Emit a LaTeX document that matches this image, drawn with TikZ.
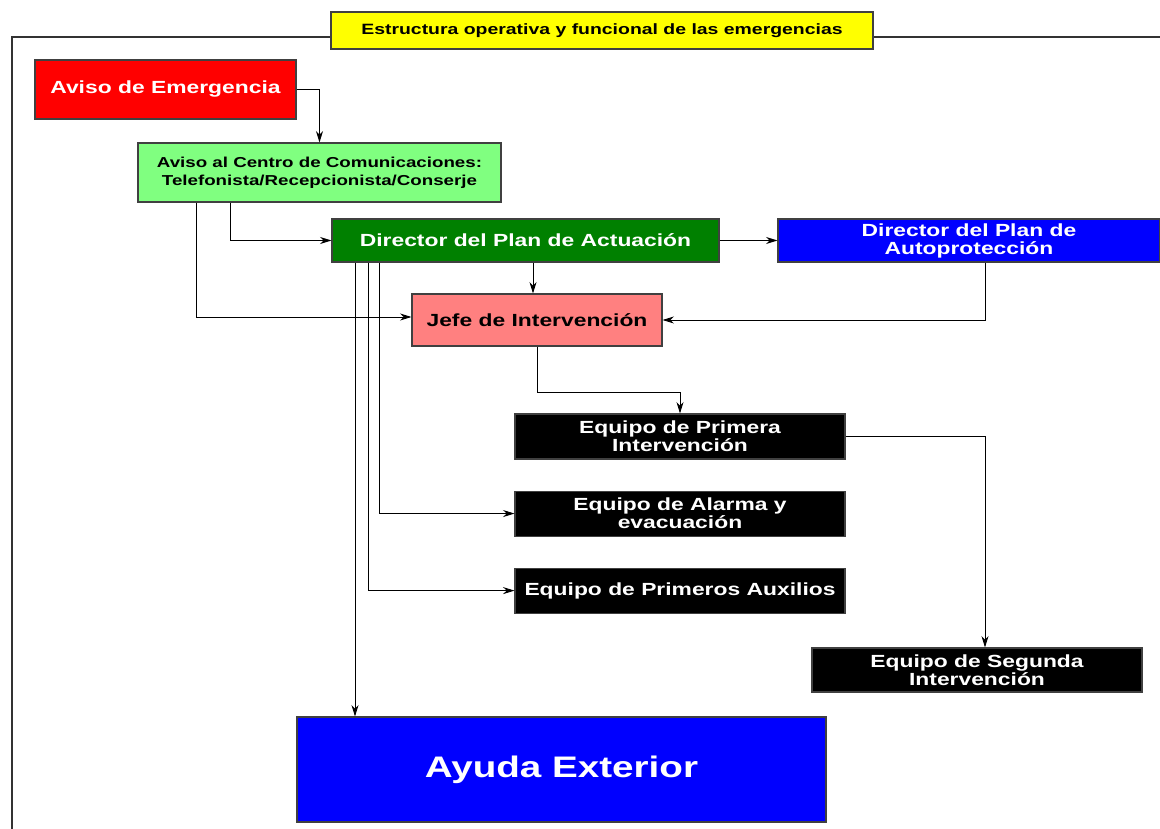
\documentclass[tikz,border=0pt]{standalone}
\usepackage{fontspec}
\setmainfont{Liberation Sans}[FakeStretch=1.3]
\usepackage{xcolor}
\usepackage{tikz}
\usetikzlibrary{arrows.meta, positioning, calc}
\definecolor{avisoRed}{RGB}{255, 0, 0}
\definecolor{centroGreen}{RGB}{128, 255, 128}
\definecolor{planGreen}{RGB}{0, 128, 0}
\definecolor{planBlue}{RGB}{0, 0, 255}
\definecolor{jefePink}{RGB}{255, 128, 128}
\definecolor{titleYellow}{RGB}{255, 255, 0}

\begin{document}
\begin{tikzpicture}[
    orgbox/.style={rectangle, draw=black!75, line width=0.6pt, align=center, inner sep=2pt},
    bigtext/.style={font=\fontsize{10}{10.2}\selectfont\bfseries},
    smalltext/.style={font=\fontsize{8.2}{10.2}\selectfont\bfseries},
    equipobox/.style={orgbox, fill=black, text=white, bigtext, minimum width=6.6cm, minimum height=0.9cm},
    arrowstyle/.style={-{Stealth[length=6.5pt, width=4pt]}, line width=0.55pt, black},
    framestyle/.style={line width=0.6pt, black!80}
]
\useasboundingbox (0,0) rectangle (23.2,-16.58);
\draw[framestyle] (0.24,-16.58) |- (23.2,-0.74);

\node[orgbox, fill=titleYellow, minimum width=10.84cm, minimum height=0.74cm, font=\fontsize{8.5}{9}\selectfont\bfseries] (titulo) at (12.04,-0.61) {Estructura operativa y funcional de las emergencias};
\node[orgbox, fill=avisoRed, text=white, bigtext, minimum width=5.22cm, minimum height=1.18cm] (aviso) at (3.31,-1.79) {Aviso de Emergencia};
\node[orgbox, fill=centroGreen, smalltext, minimum width=7.26cm, minimum height=1.18cm] (centro) at (6.39,-3.45) {Aviso al Centro de Comunicaciones:\\Telefonista/Recepcionista/Conserje};
\node[orgbox, fill=planGreen, text=white, bigtext, minimum width=7.74cm, minimum height=0.86cm] (dpa) at (10.51,-4.81) {Director del Plan de Actuación};
\node[orgbox, fill=planBlue, text=white, bigtext, minimum width=7.64cm, minimum height=0.86cm] (dpap) at (19.38,-4.81) {Director del Plan de\\Autoprotección};
\node[orgbox, fill=jefePink, bigtext, minimum width=5cm, minimum height=1.04cm] (jefe) at (10.74,-6.4) {Jefe de Intervención};
\node[equipobox] (primera) at (13.6,-8.73) {Equipo de Primera\\Intervención};
\node[equipobox, below=0.62cm of primera] (alarma) {Equipo de Alarma y\\evacuación};
\node[equipobox, below=0.62cm of alarma] (auxilios) {Equipo de Primeros Auxilios};
\node[equipobox, minimum height=0.88cm] (segunda) at (19.54,-13.4) {Equipo de Segunda\\Intervención};
\node[orgbox, fill=planBlue, text=white, minimum width=10.58cm, minimum height=2.1cm, font=\fontsize{16.9}{18}\selectfont\bfseries] (ayuda) at (11.23,-15.39) {Ayuda Exterior};

% aviso y centro de comunicaciones
\draw[arrowstyle] (aviso.east) -| (centro.north);
\draw[arrowstyle] ([xshift=-1.79cm]centro.south) |- (dpa.west);
\draw[arrowstyle] ([xshift=-2.47cm]centro.south) |- ([yshift=0.06cm]jefe.west);
% directores
\draw[arrowstyle] (dpa.east) -- (dpap.west);
\draw[arrowstyle] ([xshift=0.15cm]dpa.south) -- ([xshift=0.15cm]dpa.south |- jefe.north);
\draw[arrowstyle] ([xshift=0.32cm]dpap.south) |- (jefe.east);
% equipos
\draw[arrowstyle] (jefe.south) -- ++(0,-0.92) -| (primera.north);
\draw[arrowstyle] (primera.east) -| ([xshift=0.16cm]segunda.north);
\draw[arrowstyle] ([xshift=-2.93cm]dpa.south) |- (alarma.west);
\draw[arrowstyle] ([xshift=-3.15cm]dpa.south) |- (auxilios.west);
\draw[arrowstyle] ([xshift=-3.41cm]dpa.south) -- ([xshift=-3.41cm]dpa.south |- ayuda.north);
\end{tikzpicture}
\end{document}
